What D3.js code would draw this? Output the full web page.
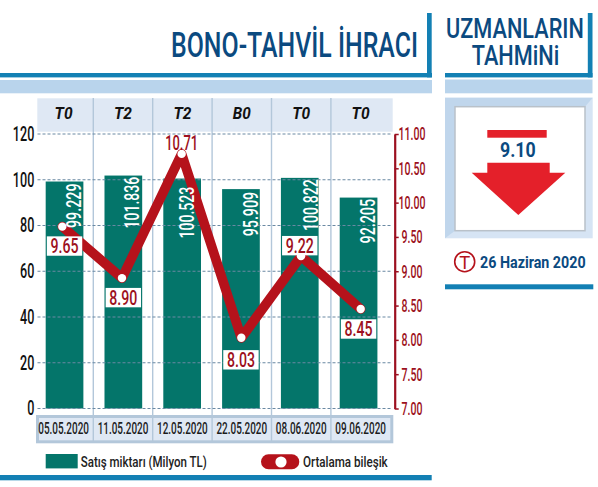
<!DOCTYPE html>
<html>
<head>
<meta charset="utf-8">
<script src="https://cdn.jsdelivr.net/npm/d3@7"></script>
<style>
html,body{margin:0;padding:0;background:#fff}
svg{display:block}
text{font-family:Roboto,"Liberation Sans",sans-serif}
</style>
</head>
<body>
<svg id="chart" width="598" height="487"></svg>
<script>
const dates = ["05.05.2020","11.05.2020","12.05.2020","22.05.2020","08.06.2020","09.06.2020"];
const types = ["T0","T2","T2","B0","T0","T0"];
const sales = [99.229,101.836,100.523,95.909,100.822,92.205];
const saleLabels = ["99.229","101.836","100.523","95.909","100.822","92.205"];
const rates = [9.65,8.90,10.71,8.03,9.22,8.45];
const leftTicks = [0,20,40,60,80,100,120];
const rightTicks = [7,7.5,8,8.5,9,9.5,10,10.5,11];

const BLUE="#1380b4", PALE="#b9d4ec", HEAD="#dfe8f4", NAVY="#0b4a80", GREEN="#04756a", RED="#b5121b", DARKRED="#9c1020", RULE="#b3c7da";

const svg = d3.select("#chart");
const rect=(x,y,w,h,f)=>svg.append("rect").attr("x",x).attr("y",y).attr("width",w).attr("height",h).attr("fill",f);

// Installed faces are wider than this layout's lettering, so each string is squeezed to its slot
function label(g,x,y,s,size,fill,width,opts={}){
  const t=g.append("text").attr("text-anchor",opts.anchor||"middle")
    .attr("font-size",size).attr("fill",fill).attr("font-weight",opts.weight||400).text(s);
  if(opts.style)t.attr("font-style",opts.style);
  const sx=width/t.node().getComputedTextLength();
  t.attr("transform",`translate(${x},${y}) ${opts.rotate?`rotate(${opts.rotate}) `:""}scale(${sx},1)`);
  return t;
}

// Scales
const x = d3.scaleBand().domain(dates).range([35.1,388]).paddingInner(0.359).paddingOuter(0.18);
const xCol = d3.scaleBand().domain(dates).range([33.9,390.3]);
const xPt = d3.scalePoint().domain(dates).range([62.3,360.7]);
const y = d3.scaleLinear().domain([0,120]).range([408.5,134]);
const yR = d3.scaleLinear().domain([7,11]).range([408.5,134]);
const barMid = i=>x(dates[i])+x.bandwidth()/2;

// Header rules and titles
rect(0,73,432,4.4,BLUE); rect(427,13,4.7,64.4,BLUE); rect(0,80,432,13.3,PALE);
rect(445,73,147.5,4.4,BLUE); rect(587.8,13,4.7,64.4,BLUE); rect(445,79.5,147.5,13.8,PALE);
label(svg,171,57.3,"BONO-TAHVİL İHRACI",36,NAVY,247,{anchor:"start",weight:500});
label(svg,446,38.3,"UZMANLARIN",28,NAVY,138,{anchor:"start",weight:500});
label(svg,471.7,65,"TAHMiNi",28,NAVY,87.6,{anchor:"start",weight:500});

// Column headers and date strip
rect(37.3,98.3,355.4,33.4,HEAD);
types.forEach((d,i)=>label(svg,xCol(dates[i])+xCol.bandwidth()/2,119.3,d,17,"#111",18,{weight:700,style:"italic"}));
rect(36,415,357.3,28.3,RULE); rect(39,418,351.3,22.3,HEAD);
dates.forEach(d=>label(svg,xCol(d)+xCol.bandwidth()/2,434,d,16.4,"#1c1c1c",50.7,{weight:500}));

// Column separators
svg.append("g").selectAll("line").data(dates.slice(1)).join("line")
  .attr("x1",d=>xCol(d)).attr("x2",d=>xCol(d)).attr("y1",98).attr("y2",441)
  .attr("stroke",RULE).attr("stroke-width",1.4);

// Bars
svg.append("g").selectAll("rect").data(sales).join("rect")
  .attr("x",(d,i)=>x(dates[i])).attr("width",x.bandwidth())
  .attr("y",d=>y(d)).attr("height",d=>y(0)-y(d)).attr("fill",GREEN);

// Dashed gridlines run over the bars on the shared ticks
svg.append("g").selectAll("line").data(leftTicks).join("line")
  .attr("x1",37.5).attr("x2",392).attr("y1",d=>y(d)).attr("y2",d=>y(d))
  .attr("stroke","#6a89a3").attr("stroke-width",1.2).attr("stroke-dasharray","3 2");

// Left axis
const axL = svg.append("g").attr("transform","translate(37.5,0)")
  .call(d3.axisLeft(y).tickValues(leftTicks).tickSize(0));
axL.select(".domain").remove();
axL.selectAll("text").attr("x",0).attr("text-anchor","end").attr("font-size",20).attr("font-weight",500).attr("fill","#111").attr("font-family",null)
  .attr("transform","translate(-3.2,0) scale(0.63,1)");

// Right axis in dark red
const axR = svg.append("g").attr("transform","translate(394.7,0)")
  .call(d3.axisRight(yR).tickValues(rightTicks).tickFormat(d3.format(".2f")).tickSize(4).tickSizeOuter(0));
axR.select(".domain").attr("stroke",DARKRED).attr("stroke-width",2.2);
axR.selectAll("line").attr("stroke",DARKRED).attr("stroke-width",1.5);
axR.selectAll("text").attr("x",0).attr("text-anchor","middle").attr("font-size",18.5).attr("font-weight",500).attr("fill",DARKRED).attr("font-family",null)
  .attr("transform","translate(17.3,0) scale(0.57,1)");

// Rate line with value boxes
const line=d3.line().x((d,i)=>xPt(dates[i])).y(d=>yR(d));
svg.append("path").datum(rates).attr("d",line).attr("fill","none").attr("stroke",RED).attr("stroke-width",9.6).attr("stroke-linejoin","round").attr("stroke-linecap","round");
svg.append("g").selectAll("circle").data(rates).join("circle")
  .attr("cx",(d,i)=>xPt(dates[i])).attr("cy",d=>yR(d)).attr("r",4.2).attr("fill","#fff");

// Vertical sale amounts sit above the line so they stay readable
const amountShift=[9.2,8.2,4.8,9.7,10.8,9.7];
const amountInset=[2,1.2,8.2,2.7,1.4,1.4];
sales.forEach((d,i)=>{
  label(svg,barMid(i)+amountShift[i]+7,y(d)+amountInset[i],saleLabels[i],19.7,"#fff",saleLabels[i].length>6?51.7:44.5,{anchor:"end",rotate:-90,weight:500});
});

const boxOffset=[19.4,19.5,null,22,-10.5,20];
const boxes=svg.append("g");
rates.forEach((d,i)=>{
  const txt=d3.format(".2f")(d);
  if(boxOffset[i]===null){
    label(boxes,xPt(dates[i]),yR(d)-3.9,txt,19.7,DARKRED,33,{weight:500});
    return;
  }
  const cy=yR(d)+boxOffset[i], mid=barMid(i);
  boxes.append("rect").attr("x",mid-17.7).attr("y",cy-9.7).attr("width",35.4).attr("height",19.4).attr("fill","#fff");
  label(boxes,mid,cy+7,txt,19.7,DARKRED,28,{weight:500});
});

// Legend
rect(45.7,454,32,14.4,GREEN);
label(svg,80.7,466.7,"Satış miktarı (Milyon TL)",14,"#222",126.3,{anchor:"start",weight:500});
rect(261,454.3,38.3,15,RED).attr("rx",7.5);
svg.append("circle").attr("cx",281).attr("cy",462).attr("r",5.6).attr("fill","#fff");
label(svg,303,466.7,"Ortalama bileşik",14,"#222",84.7,{anchor:"start",weight:500});
rect(0,475,431.7,5.3,BLUE);

// Forecast panel
rect(445,97.7,147.7,140.6,"#d6e4f4");
svg.append("polygon").attr("fill","#c0d6ec").attr("points",[[445,97.7],[592.7,97.7],[585,106.7],[455,106.7],[455,230.7],[445,238.3]].join(" "));
rect(455,106.7,130,124,"#fff").attr("stroke","#b9c1c9").attr("stroke-width",1.5);
rect(487.3,130,59.4,7.7,"#e4202a");
label(svg,517.8,156.7,"9.10",21,NAVY,35.7,{weight:700});
const arrowPts=[[487.3,162.7],[549.7,162.7],[549.7,172.7],[565.3,172.7],[518.3,215],[471.7,172.7],[487.3,172.7]];
svg.append("polygon").attr("fill","#e4202a").attr("points",arrowPts.join(" "));
svg.append("circle").attr("cx",464.7).attr("cy",261.7).attr("r",10).attr("fill","#fff").attr("stroke","#b5121b").attr("stroke-width",1.6);
label(svg,464.7,268.5,"T",19,"#b5121b",11);
label(svg,480,267.7,"26 Haziran 2020",16,NAVY,105.7,{anchor:"start",weight:700});
rect(445,284.3,148.3,5,BLUE);
</script>
</body>
</html>
